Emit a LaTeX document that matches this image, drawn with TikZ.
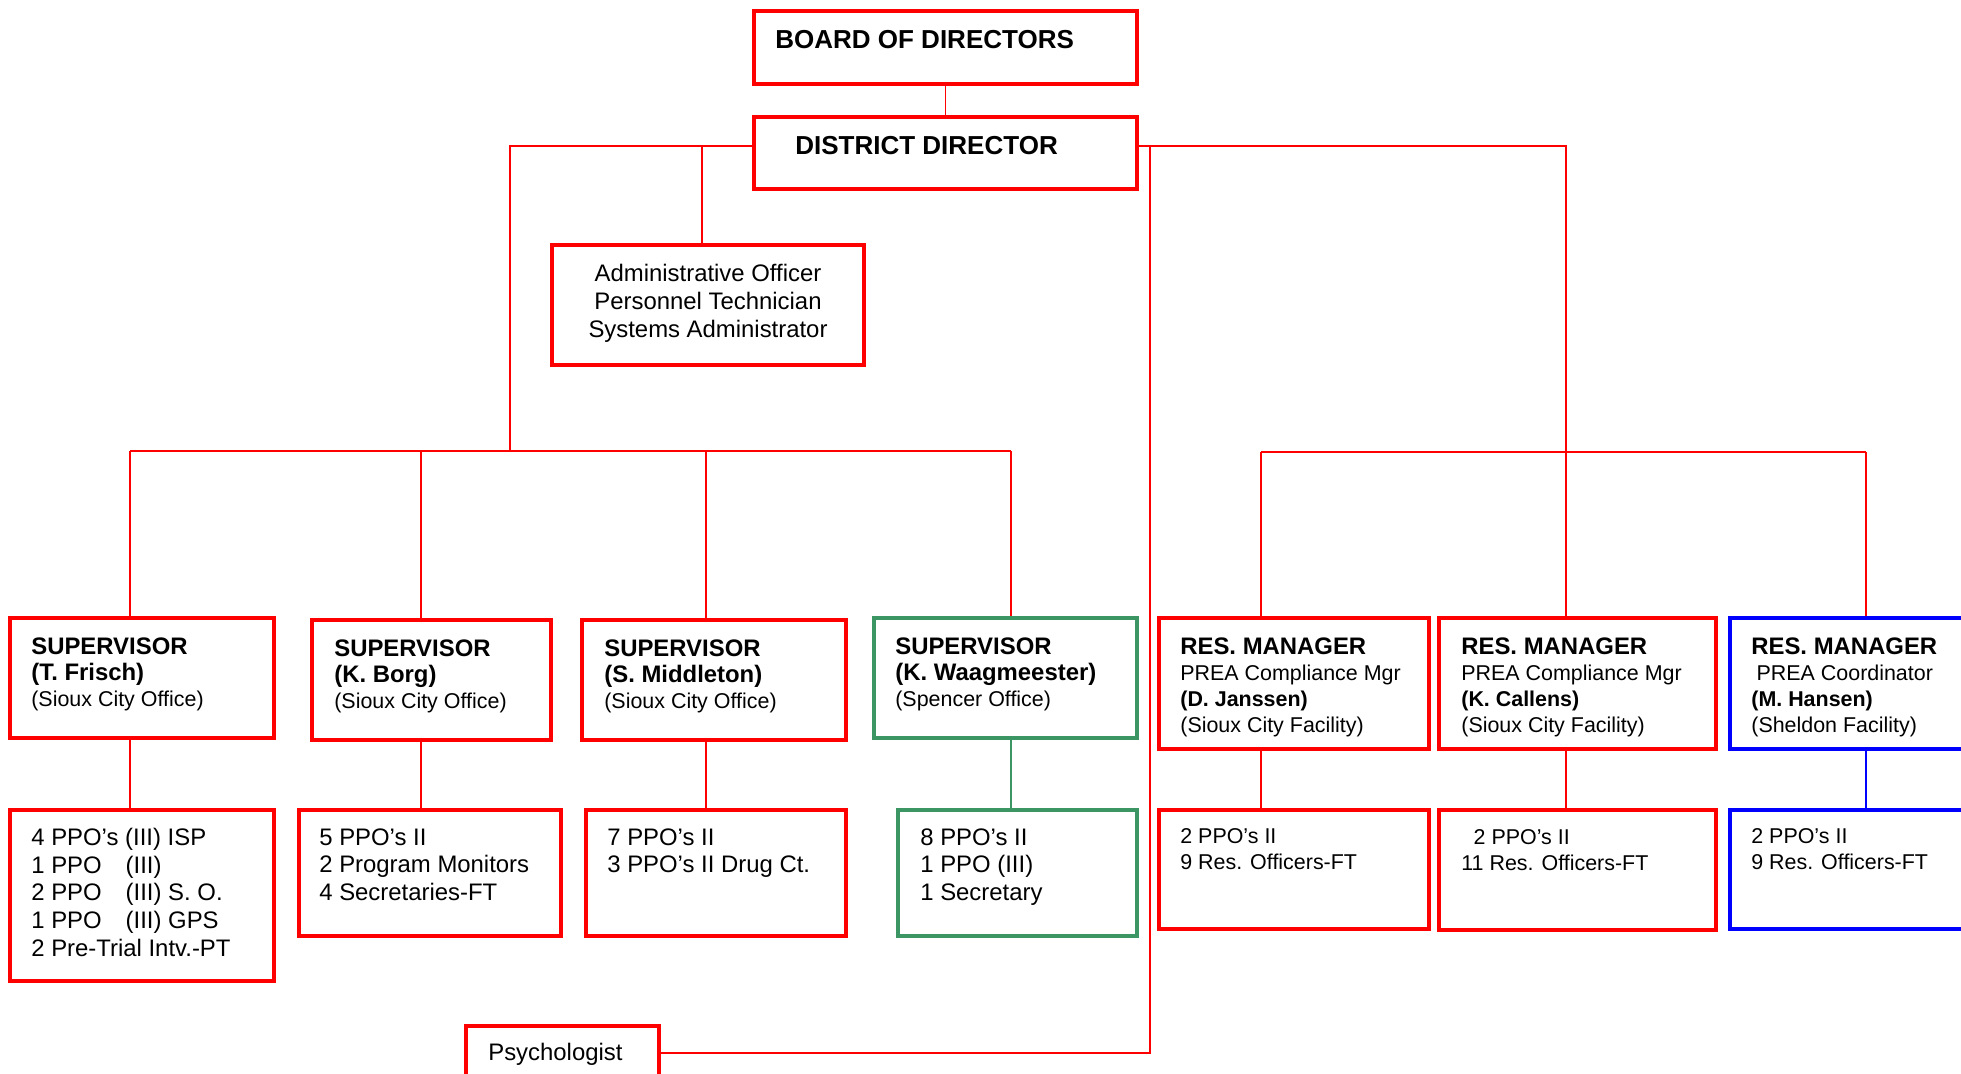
\documentclass[tikz,border=0pt]{standalone}
\usepackage{fontspec}
\setmainfont{Liberation Sans}
\usetikzlibrary{fit}
\definecolor{orgRed}{RGB}{255,0,0}
\definecolor{orgGreen}{RGB}{60,150,100}
\definecolor{orgBlue}{RGB}{0,0,255}
\newcommand{\headfont}{\fontsize{14.8}{17}\selectfont\bfseries}
\newcommand{\bodyfont}{\fontsize{13.6}{15.7}\selectfont}
\newcommand{\subfont}{\fontsize{12.2}{14.8}\selectfont}
\newcommand{\tabppo}[1]{\makebox[3.95em][l]{#1}}

\begin{document}
\begin{tikzpicture}[x = 0.02cm, y = -0.02cm]
\tikzstyle{boxStyle} = [draw = orgRed, line width = 2.3pt, inner sep = 0pt, minimum size = 0pt]
\tikzstyle{textStyle} = [anchor = north west, inner sep = 0pt, align = left, font = \bodyfont]
\tikzstyle{supStyle} = [textStyle, font = \fontsize{13.6}{14.8}\selectfont]
\tikzstyle{resStyle} = [textStyle, font = \subfont]
\tikzstyle{linkStyle} = [draw = orgRed, line width = 1pt]
\useasboundingbox (0,0) rectangle (1961,1073);
\node[boxStyle, fit = {(754,11) (1137,84)}] (board) {};
\node[boxStyle, fit = {(754,117) (1137,189)}] (dd) {};
\node[boxStyle, fit = {(552,245) (864,365)}] (admin) {};
\node[boxStyle, fit = {(10,618) (274,738)}] (sup1) {};
\node[boxStyle, fit = {(312,620) (551,740)}] (sup2) {};
\node[boxStyle, fit = {(582,620) (846,740)}] (sup3) {};
\node[boxStyle, draw = orgGreen, fit = {(874,618) (1137,738)}] (sup4) {};
\node[boxStyle, fit = {(10,810) (274,981)}] (staff1) {};
\node[boxStyle, fit = {(299,810) (561,936)}] (staff2) {};
\node[boxStyle, fit = {(586,810) (846,936)}] (staff3) {};
\node[boxStyle, draw = orgGreen, fit = {(898,810) (1137,936)}] (staff4) {};
\node[boxStyle, fit = {(1159,618) (1429,749)}] (res1) {};
\node[boxStyle, fit = {(1439,618) (1716,749)}] (res2) {};
\node[boxStyle, draw = orgBlue, fit = {(1730,618) (1995,749)}] (res3) {};
\node[boxStyle, fit = {(1159,810) (1429,929)}] (resstaff1) {};
\node[boxStyle, fit = {(1439,810) (1716,930)}] (resstaff2) {};
\node[boxStyle, draw = orgBlue, fit = {(1730,810) (1995,929)}] (resstaff3) {};
\node[boxStyle, fit = {(466,1026) (659,1080)}] (psych) {};
\node[textStyle, font = \headfont] (boardText) at (775,30) {BOARD OF DIRECTORS};
\node[textStyle, font = \headfont] (ddText) at (795,136) {DISTRICT DIRECTOR};
\node[textStyle, anchor = center, align = center, font = \fontsize{13.6}{15.9}\selectfont] (adminText) at (708,303) {Administrative Officer\\Personnel Technician\\Systems Administrator};
\node[supStyle] (sup1Text) at (31,637) {\textbf{SUPERVISOR}\\\textbf{(T. Frisch)}\\{\subfont (Sioux City Office)}};
\node[supStyle] (sup2Text) at (334,639) {\textbf{SUPERVISOR}\\\textbf{(K. Borg)}\\{\subfont (Sioux City Office)}};
\node[supStyle] (sup3Text) at (604,639) {\textbf{SUPERVISOR}\\\textbf{(S. Middleton)}\\{\subfont (Sioux City Office)}};
\node[supStyle] (sup4Text) at (895,637) {\textbf{SUPERVISOR}\\\textbf{(K. Waagmeester)}\\{\subfont (Spencer Office)}};
\node[textStyle] (staff1Text) at (31,828) {4 PPO’s (III) ISP\\\tabppo{1 PPO}(III)\\\tabppo{2 PPO}(III) S. O.\\\tabppo{1 PPO}(III) GPS\\2 Pre-Trial Intv.-PT};
\node[textStyle] (staff2Text) at (319,828) {5 PPO’s II\\2 Program Monitors\\4 Secretaries-FT};
\node[textStyle] (staff3Text) at (607,828) {7 PPO’s II\\3 PPO’s II Drug Ct.};
\node[textStyle] (staff4Text) at (920,828) {8 PPO’s II\\1 PPO (III)\\1 Secretary};
\node[resStyle] (res1Text) at (1180,637) {{\fontsize{13.6}{14.8}\selectfont\bfseries RES. MANAGER}\\PREA Compliance Mgr\\\textbf{(D. Janssen)}\\(Sioux City Facility)};
\node[resStyle] (res2Text) at (1461,637) {{\fontsize{13.6}{14.8}\selectfont\bfseries RES. MANAGER}\\PREA Compliance Mgr\\\textbf{(K. Callens)}\\(Sioux City Facility)};
\node[resStyle] (res3Text) at (1751,637) {{\fontsize{13.6}{14.8}\selectfont\bfseries RES. MANAGER}\\\hspace{3pt}PREA Coordinator\\\textbf{(M. Hansen)}\\(Sheldon Facility)};
\node[resStyle] (resstaff1Text) at (1180,828) {2 PPO’s II\\9 Res. Officers-FT};
\node[resStyle] (resstaff2Text) at (1461,829) {\hspace{7pt}2 PPO’s II\\11 Res. Officers-FT};
\node[resStyle] (resstaff3Text) at (1751,828) {2 PPO’s II\\9 Res. Officers-FT};
\node[textStyle] (psychText) at (488,1043) {Psychologist};
\coordinate (hubL) at (754,146);
\coordinate (hubR) at (1137,146);
\coordinate (split) at (1150,146);
\coordinate (busL) at (510,451);
\coordinate (adminDrop) at (702,146);
\coordinate (colA) at (130,451);
\coordinate (colB) at (421,451);
\coordinate (colC) at (706,451);
\coordinate (colD) at (1011,451);
\coordinate (colE) at (1261,452);
\coordinate (colF) at (1566,452);
\coordinate (colG) at (1866,452);
\draw[linkStyle] (board.south) -- (dd.north);
\draw[linkStyle] (hubL) -| (busL);
\draw[linkStyle] (adminDrop) -- (adminDrop |- admin.north);
\draw[linkStyle] (colA) -- (colD);
\draw[linkStyle] (hubR) -| (colF);
\draw[linkStyle] (colE) -- (colG);
\draw[linkStyle] (psych.east) -| (split);
\foreach \c/\b/\s/\k in {colA/sup1/staff1/orgRed, colB/sup2/staff2/orgRed, colC/sup3/staff3/orgRed, colD/sup4/staff4/orgGreen, colE/res1/resstaff1/orgRed, colF/res2/resstaff2/orgRed, colG/res3/resstaff3/orgBlue}
{
\draw[linkStyle] (\c) -- (\c |- \b.north);
\draw[linkStyle, draw = \k] (\c |- \b.south) -- (\c |- \s.north);
}
\end{tikzpicture}
\end{document}
